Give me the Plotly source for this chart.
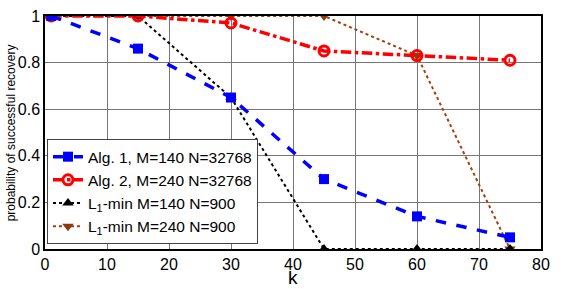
import plotly.graph_objects as go

k = [1, 15, 30, 45, 60, 75]
alg1 = [1.0, 0.86, 0.65, 0.30, 0.14, 0.05]
alg2 = [1.0, 1.0, 0.97, 0.85, 0.83, 0.81]
l1_140 = [1.0, 1.0, 0.65, 0.0, 0.0, 0.0]
l1_240 = [1.0, 1.0, 1.0, 1.0, 0.83, 0.0]

names = ["Alg. 1, M=140 N=32768", "Alg. 2, M=240 N=32768",
         "L<sub>1</sub>-min M=140 N=900", "L<sub>1</sub>-min M=240 N=900"]

fig = go.Figure()
fig.add_trace(go.Scatter(x=k, y=l1_240, name=names[3], mode="lines+markers",
                         line=dict(color="#A0400F", width=2, dash="dot"),
                         marker=dict(symbol="triangle-down", size=10, color="#8B3A0F")))
fig.add_trace(go.Scatter(x=k, y=l1_140, name=names[2], mode="lines+markers",
                         line=dict(color="black", width=2, dash="dot"),
                         marker=dict(symbol="triangle-up", size=10, color="black")))
fig.add_trace(go.Scatter(x=k, y=alg2, name=names[1], mode="lines+markers",
                         line=dict(color="red", width=3.5, dash="dashdot"),
                         marker=dict(symbol="circle-open", size=10, color="red", line=dict(width=3))))
fig.add_trace(go.Scatter(x=k, y=alg1, name=names[0], mode="lines+markers",
                         line=dict(color="blue", width=3.5, dash="dash"),
                         marker=dict(symbol="square", size=10, color="blue")))

fig.update_layout(
    width=572, height=289,
    margin=dict(l=45, r=31, t=16, b=40, autoexpand=False),
    plot_bgcolor="white", paper_bgcolor="white",
    font=dict(family="Liberation Sans, Arial", size=16, color="black"),
    showlegend=True,
    legend=dict(x=0.004, y=0.021, xanchor="left", yanchor="bottom",
                traceorder="reversed", bgcolor="white",
                bordercolor="#444", borderwidth=1,
                font=dict(size=15.5), tracegroupgap=0, itemwidth=30),
    xaxis=dict(range=[0, 80], tickvals=[0, 10, 20, 30, 40, 50, 60, 70, 80],
               showgrid=True, gridcolor="#777", gridwidth=1,
               showline=True, linecolor="black", linewidth=1.5, mirror=True,
               ticks="", zeroline=False, automargin=False),
    yaxis=dict(range=[0, 1], tickvals=[0, 0.2, 0.4, 0.6, 0.8, 1],
               ticktext=["0", "0.2", "0.4", "0.6", "0.8", "1"],
               showgrid=True, gridcolor="#777", gridwidth=1,
               showline=True, linecolor="black", linewidth=1.5, mirror=True,
               ticks="", zeroline=False, automargin=False),
    annotations=[
        dict(text="k", xref="paper", yref="paper", x=0.5, y=-0.172,
             xanchor="center", yanchor="bottom", showarrow=False,
             borderpad=0, font=dict(size=19)),
        dict(text="probability of successful recovery", xref="paper", yref="paper",
             x=-0.087, y=0.5, xanchor="left", yanchor="middle", textangle=-90,
             showarrow=False, font=dict(size=12)),
    ],
)
fig.write_html("out.html", config={"displayModeBar": False},
               post_script="document.body.style.margin='0';document.body.style.overflow='hidden';")
